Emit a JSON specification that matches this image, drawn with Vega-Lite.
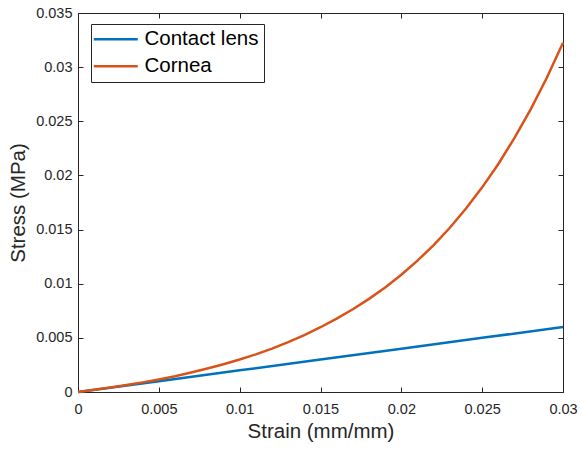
{
  "$schema": "https://vega.github.io/schema/vega-lite/v6.json",
  "width": 485,
  "height": 379,
  "autosize": "none",
  "padding": {"left": 78, "top": 13, "right": 18, "bottom": 60},
  "background": "white",
  "config": {
    "view": {"stroke": "#262626", "strokeWidth": 1},
    "font": "Liberation Sans",
    "axis": {
      "labelFont": "Liberation Sans",
      "labelFontSize": 14.5,
      "labelColor": "#262626",
      "labelFlush": false,
      "titleFont": "Liberation Sans",
      "titleFontSize": 20.5,
      "titleFontWeight": "normal",
      "titleColor": "#262626",
      "domainColor": "#262626",
      "tickColor": "#262626",
      "grid": false
    }
  },
  "data": {
    "values": [
      {"strain": 0.000, "stress": 0.000, "material": "Contact lens"},
      {"strain": 0.005, "stress": 0.001, "material": "Contact lens"},
      {"strain": 0.010, "stress": 0.002, "material": "Contact lens"},
      {"strain": 0.015, "stress": 0.003, "material": "Contact lens"},
      {"strain": 0.020, "stress": 0.004, "material": "Contact lens"},
      {"strain": 0.025, "stress": 0.005, "material": "Contact lens"},
      {"strain": 0.030, "stress": 0.006, "material": "Contact lens"},
      {"strain": 0.000, "stress": 0.00000, "material": "Cornea"},
      {"strain": 0.001, "stress": 0.00020, "material": "Cornea"},
      {"strain": 0.002, "stress": 0.00041, "material": "Cornea"},
      {"strain": 0.003, "stress": 0.00064, "material": "Cornea"},
      {"strain": 0.004, "stress": 0.00089, "material": "Cornea"},
      {"strain": 0.005, "stress": 0.00116, "material": "Cornea"},
      {"strain": 0.006, "stress": 0.00146, "material": "Cornea"},
      {"strain": 0.007, "stress": 0.00180, "material": "Cornea"},
      {"strain": 0.008, "stress": 0.00217, "material": "Cornea"},
      {"strain": 0.009, "stress": 0.00257, "material": "Cornea"},
      {"strain": 0.010, "stress": 0.00300, "material": "Cornea"},
      {"strain": 0.011, "stress": 0.00348, "material": "Cornea"},
      {"strain": 0.012, "stress": 0.00401, "material": "Cornea"},
      {"strain": 0.013, "stress": 0.00460, "material": "Cornea"},
      {"strain": 0.014, "stress": 0.00526, "material": "Cornea"},
      {"strain": 0.015, "stress": 0.00598, "material": "Cornea"},
      {"strain": 0.016, "stress": 0.00677, "material": "Cornea"},
      {"strain": 0.017, "stress": 0.00764, "material": "Cornea"},
      {"strain": 0.018, "stress": 0.00860, "material": "Cornea"},
      {"strain": 0.019, "stress": 0.00966, "material": "Cornea"},
      {"strain": 0.020, "stress": 0.01083, "material": "Cornea"},
      {"strain": 0.021, "stress": 0.01213, "material": "Cornea"},
      {"strain": 0.022, "stress": 0.01357, "material": "Cornea"},
      {"strain": 0.023, "stress": 0.01517, "material": "Cornea"},
      {"strain": 0.024, "stress": 0.01694, "material": "Cornea"},
      {"strain": 0.025, "stress": 0.01890, "material": "Cornea"},
      {"strain": 0.026, "stress": 0.02106, "material": "Cornea"},
      {"strain": 0.027, "stress": 0.02346, "material": "Cornea"},
      {"strain": 0.028, "stress": 0.02610, "material": "Cornea"},
      {"strain": 0.029, "stress": 0.02902, "material": "Cornea"},
      {"strain": 0.030, "stress": 0.03225, "material": "Cornea"}
    ]
  },
  "layer": [
    {
      "mark": {"type": "line", "strokeWidth": 2.5},
      "encoding": {
        "x": {
          "field": "strain",
          "type": "quantitative",
          "scale": {"domain": [0, 0.03], "nice": false, "zero": false},
          "axis": {
            "orient": "bottom",
            "title": "Strain (mm/mm)",
            "values": [0, 0.005, 0.01, 0.015, 0.02, 0.025, 0.03],
            "format": "~g",
            "tickSize": -5,
            "labelPadding": 15,
            "titlePadding": 6
          }
        },
        "y": {
          "field": "stress",
          "type": "quantitative",
          "scale": {"domain": [0, 0.035], "nice": false, "zero": false},
          "axis": {
            "orient": "left",
            "title": "Stress (MPa)",
            "values": [0, 0.005, 0.01, 0.015, 0.02, 0.025, 0.03, 0.035],
            "format": "~g",
            "tickSize": -5,
            "labelPadding": 11,
            "titlePadding": 7
          }
        },
        "color": {
          "field": "material",
          "type": "nominal",
          "scale": {"domain": ["Contact lens", "Cornea"], "range": ["#0072BD", "#D95319"]},
          "legend": {
            "title": null,
            "orient": "none",
            "legendX": 13,
            "legendY": 11,
            "direction": "vertical",
            "symbolType": "M-2.5,0H6.3",
            "symbolSize": 100,
            "symbolStrokeWidth": 2.5,
            "labelFont": "Liberation Sans",
            "labelFontSize": 20.5,
            "labelColor": "#000000",
            "labelOffset": 28,
            "rowPadding": 6,
            "padding": 5,
            "strokeColor": "#262626",
            "fillColor": "white"
          }
        }
      }
    },
    {
      "mark": {"type": "point", "opacity": 0},
      "encoding": {
        "x": {
          "field": "strain",
          "type": "quantitative",
          "axis": {
            "orient": "top",
            "title": null,
            "labels": false,
            "domain": false,
            "values": [0, 0.005, 0.01, 0.015, 0.02, 0.025, 0.03],
            "tickSize": -5
          }
        },
        "y": {
          "field": "stress",
          "type": "quantitative",
          "axis": {
            "orient": "right",
            "title": null,
            "labels": false,
            "domain": false,
            "values": [0, 0.005, 0.01, 0.015, 0.02, 0.025, 0.03, 0.035],
            "tickSize": -5
          }
        }
      }
    }
  ],
  "resolve": {"axis": {"x": "independent", "y": "independent"}}
}
